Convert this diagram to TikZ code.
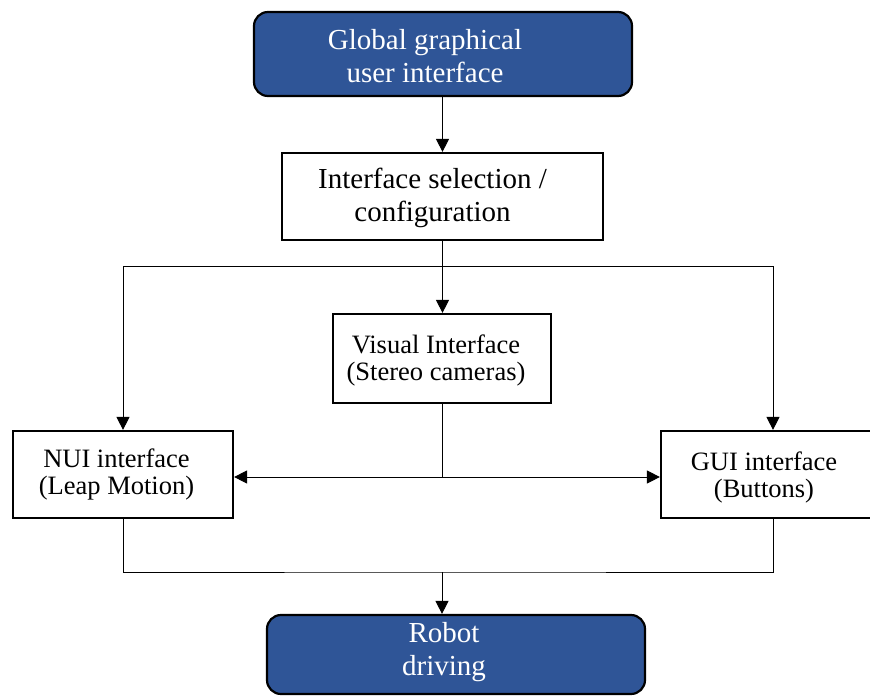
\documentclass[tikz,border=0pt]{standalone}
\usepackage{fontspec}
\setmainfont{Liberation Serif}
\usetikzlibrary{arrows.meta}
\definecolor{boxblue}{HTML}{2F5597}
\begin{document}
\begin{tikzpicture}[x=1pt,y=-1pt,
  bluebox/.style={draw=black,line width=2.2pt,fill=boxblue,rounded corners=14pt,inner sep=0pt},
  whitebox/.style={draw=black,line width=2.2pt,fill=white,inner sep=0pt},
  bigtext/.style={font=\fontsize{29}{33}\selectfont,align=center,inner sep=0pt},
  smalltext/.style={font=\fontsize{26.5}{27}\selectfont,align=center,inner sep=0pt},
  conn/.style={line width=1pt,draw=black},
  arr/.style={conn,-{Triangle[length=13pt,width=13pt]}}]
\useasboundingbox (0,0) rectangle (870,696);
% boxes
\node[bluebox,minimum width=378pt,minimum height=84pt] (top) at (443,54) {};
\node[whitebox,minimum width=321pt,minimum height=87pt] (cfg) at (442.5,196.5) {};
\node[whitebox,minimum width=218pt,minimum height=89pt] (vis) at (442,358.5) {};
\node[whitebox,minimum width=220pt,minimum height=87pt] (nui) at (123,474.5) {};
\node[whitebox,minimum width=224pt,minimum height=87pt] (gui) at (773,474.5) {};
\node[bluebox,minimum width=378pt,minimum height=79pt] (robot) at (456,654.5) {};
% texts
\node[bigtext,text=white] (toptxt) at (425,56.5) {Global graphical\\user interface};
\node[bigtext] (cfgtxt) at (432.5,198) {Interface selection /\\configuration};
\node[smalltext] (vistxt) at (436,360) {Visual Interface\\(Stereo cameras)};
\node[smalltext] (nuitxt) at (116.5,474) {NUI interface\\(Leap Motion)};
\node[smalltext] (guitxt) at (764,477) {GUI interface\\(Buttons)};
\node[bigtext,text=white] (robottxt) at (444,652.5) {Robot\\driving};
% connectors
\coordinate (split) at (442,266);
\coordinate (mid) at (442,477);
\coordinate (join) at (442,572);
\draw[arr] (top.south -| cfg.north) -- (cfg.north);
\draw[arr] (cfg.south) -- (cfg.south |- vis.north);
\draw[arr] (split) -| (nui.north);
\draw[arr] (split) -| (gui.north);
\draw[conn] (vis.south -| mid) -- (mid);
\draw[arr] (mid) -- (nui.east |- mid);
\draw[arr] (mid) -- (gui.west |- mid);
\draw[conn] (nui.south) |- (join) -| (gui.south);
\draw[arr] (join) -- (join |- robot.north);
\end{tikzpicture}
\end{document}
